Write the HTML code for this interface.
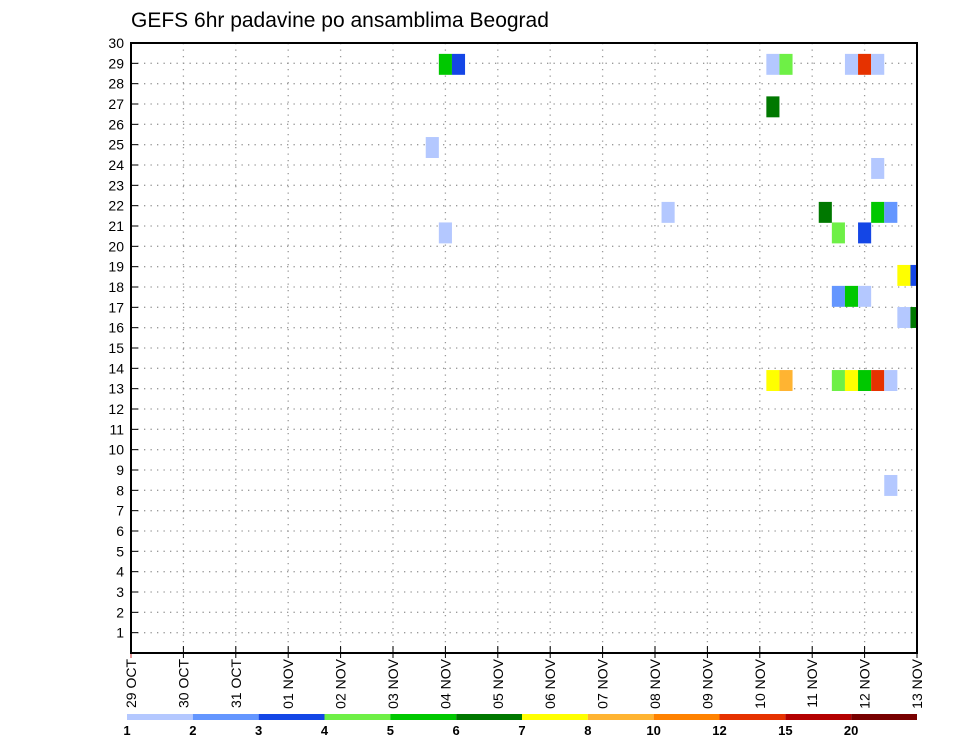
<!DOCTYPE html>
<html><head><meta charset="utf-8">
<style>
body{margin:0;background:#fff;}
svg{display:block;font-family:"Liberation Sans","DejaVu Sans",sans-serif;}
</style></head>
<body>
<svg id="chart" width="960" height="742" viewBox="0 0 960 742" xmlns="http://www.w3.org/2000/svg">
<text x="131" y="27" font-size="21" fill="#000">GEFS 6hr padavine po ansamblima Beograd</text>
<g id="grid"></g>
<g id="cells"></g>
<g id="axes"></g>
<g id="cbar"></g>
</svg>
<script>
const dayLabels = ["29 OCT","30 OCT","31 OCT","01 NOV","02 NOV","03 NOV","04 NOV","05 NOV","06 NOV","07 NOV","08 NOV","09 NOV","10 NOV","11 NOV","12 NOV","13 NOV"];
const yTicks = [1,2,3,4,5,6,7,8,9,10,11,12,13,14,15,16,17,18,19,20,21,22,23,24,25,26,27,28,29,30];
// cell data: 6-hour step index (start = 03z + 6h*step from 29 OCT), member row value, precip amount (mm)
const cellStep   = [23,24,48,49,54,55,56,48,22,56,40,52,56,57,23,53,55,58,59,53,54,55,58,59,48,49,53,54,55,56,57,57];
const cellMember = [28.95,28.95,28.95,28.95,28.95,28.95,28.95,26.86,24.86,23.83,21.67,21.67,21.67,21.67,20.66,20.66,20.66,18.57,18.57,17.54,17.54,17.54,16.5,16.5,13.4,13.4,13.4,13.4,13.4,13.4,13.4,8.24];
const cellValue  = [5.5,3.5,1.5,4.5,1.5,13,1.5,6.5,1.5,1.5,1.5,6.5,5.5,2.5,1.5,4.5,3.5,7.5,3.5,2.5,5.5,1.5,1.5,6.5,7.5,9,4.5,7.5,5.5,13,1.5,1.5];
const levels = [1,2,3,4,5,6,7,8,10,12,15,20];
const levelColors = ["#b4c8ff","#6496ff","#1446e6","#6ef046","#00c800","#007800","#ffff00","#ffb432","#ff8200","#e63200","#b40000","#780000"];

const NS="http://www.w3.org/2000/svg";
const L=131,R=917,T=43,B=653;
const dayW=(R-L)/15;
const xDay=d=>L+d*dayW;
const xHour=h=>L+h*dayW/24;
const yVal=v=>B-v*(B-T)/30;
function mk(tag,attrs,parent){const e=document.createElementNS(NS,tag);for(const k in attrs)e.setAttribute(k,attrs[k]);parent.appendChild(e);return e;}
const grid=document.getElementById('grid'),cells=document.getElementById('cells'),axes=document.getElementById('axes'),cbar=document.getElementById('cbar');

yTicks.forEach(v=>{
  const l=mk('line',{x1:L,x2:R,y1:yVal(v),y2:yVal(v),stroke:'#999','stroke-width':1.3,'stroke-dasharray':'1.3 5.2'},grid);
  
  
  const t=mk('line',{x1:L,x2:L+7,y1:yVal(v),y2:yVal(v),stroke:'#000','stroke-width':1},axes);
  
  
  const tx=mk('text',{x:124,y:yVal(v)+5,'text-anchor':'end','font-size':14,fill:'#000'},axes);
  tx.textContent=v;
  
  
});
dayLabels.forEach((lab,i)=>{
  const x=xDay(i);
  if(i>0&&i<15){
    const g=mk('line',{x1:x,x2:x,y1:T,y2:B,stroke:'#999','stroke-width':1.3,'stroke-dasharray':'1.3 5.2'},grid);
    
    
  }
  const t=mk('line',{x1:x,x2:x,y1:B-7,y2:B+5,stroke:i==0?'#c33':'#000','stroke-width':1},axes);
  
  
  const tx=mk('text',{x:0,y:0,'text-anchor':'end','font-size':14,fill:'#000',transform:`translate(${x+5},${B+6}) rotate(-90)`},axes);
  tx.textContent=lab;
  
  
});
function colorFor(v){let c=levelColors[0];levels.forEach((lv,i)=>{if(v>=lv)c=levelColors[i];});return c;}
const cellH=(B-T)/30*1.03;
cellStep.forEach((s,i)=>{
  const h0=3+6*s;
  let x0=xHour(h0),x1=Math.min(xHour(h0+6),R);
  const yc=yVal(cellMember[i]);
  const r=mk('rect',{x:x0,y:yc-cellH/2,width:x1-x0,height:cellH,fill:colorFor(cellValue[i])},cells);
  
  
});
const frame=mk('rect',{x:L,y:T,width:R-L,height:B-T,fill:'none',stroke:'#000','stroke-width':2},axes);



const cbL=127,cbR=917,segW=(cbR-cbL)/levels.length;
levels.forEach((lv,i)=>{
  const r=mk('rect',{x:cbL+i*segW,y:714,width:segW,height:6,fill:levelColors[i]},cbar);
  
  
  const t=mk('text',{x:cbL+i*segW,y:735,'text-anchor':'middle','font-size':13,'font-weight':'bold',fill:'#000'},cbar);
  t.textContent=lv;
  
  
});
</script>
</body></html>
